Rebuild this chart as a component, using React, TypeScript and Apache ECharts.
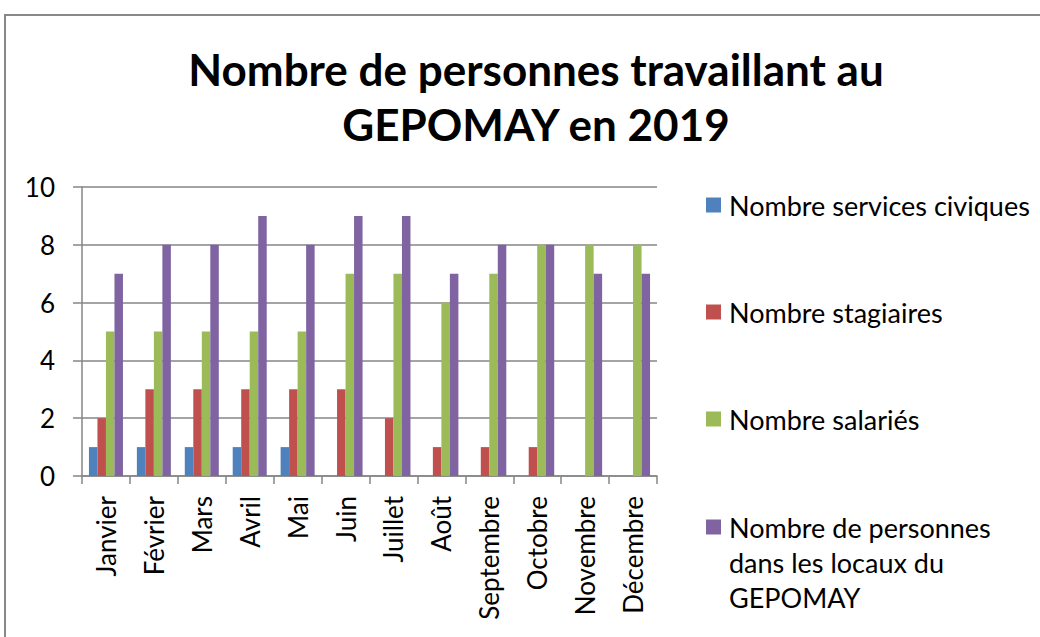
import React, { useEffect, useRef } from "react";
import * as echarts from "echarts";

const months = ["Janvier", "Février", "Mars", "Avril", "Mai", "Juin", "Juillet", "Août", "Septembre", "Octobre", "Novembre", "Décembre"];
const seriesNames = [
  "Nombre services civiques",
  "Nombre stagiaires",
  "Nombre salariés",
  "Nombre de personnes dans les locaux du GEPOMAY",
];
const legendLabels = [
  "Nombre services civiques",
  "Nombre stagiaires",
  "Nombre salariés",
  "Nombre de personnes\ndans les locaux du\nGEPOMAY",
];
const servicesCiviques = [1, 1, 1, 1, 1, 0, 0, 0, 0, 0, 0, 0];
const stagiaires = [2, 3, 3, 3, 3, 3, 2, 1, 1, 1, 0, 0];
const salaries = [5, 5, 5, 5, 5, 7, 7, 6, 7, 8, 8, 8];
const personnes = [7, 8, 8, 9, 8, 9, 9, 7, 8, 8, 7, 7];
const colors = ["#4F81BD", "#C0504D", "#9BBB59", "#8064A2"];
const titleText = "Nombre de personnes travaillant au\nGEPOMAY en 2019";

const FONT = "Lato, 'Noto Sans', sans-serif";

export default function App() {
  const ref = useRef<HTMLDivElement>(null);
  useEffect(() => {
    document.body.style.margin = "0";
    const chart = echarts.init(ref.current!, null, { renderer: "svg" });
    const data = [servicesCiviques, stagiaires, salaries, personnes];
    const legendY = [205, 312, 419, 527];
    const legendGraphics: any[] = [];
    legendLabels.forEach((lbl, i) => {
      legendGraphics.push({
        type: "rect",
        shape: { x: 706, y: legendY[i] - 7.5, width: 15, height: 15 },
        style: { fill: colors[i] },
      });
      legendGraphics.push({
        type: "text",
        x: 729,
        y: legendY[i] - 17.5,
        style: {
          text: lbl,
          font: `27px ${FONT}`,
          fill: "#000",
          verticalAlign: "top",
          lineHeight: 35,
        },
      });
    });
    chart.setOption({
      animation: false,
      backgroundColor: "#fff",
      title: {
        text: titleText,
        left: 531,
        top: 36,
        textAlign: "center",
        textStyle: {
          fontFamily: FONT,
          fontWeight: "bold",
          fontSize: 44,
          lineHeight: 55,
          color: "#000",
        },
      },
      grid: { left: 82, right: 383, top: 187, bottom: 161, containLabel: false },
      xAxis: {
        type: "category",
        data: months,
        axisLine: { lineStyle: { color: "#868686", width: 1.5 } },
        axisTick: { show: true, length: 8, lineStyle: { color: "#868686", width: 1.5 } },
        axisLabel: {
          rotate: 90,
          interval: 0,
          margin: 20,
          fontFamily: FONT,
          fontSize: 26,
          color: "#000",
        },
      },
      yAxis: {
        type: "value",
        min: 0,
        max: 10,
        interval: 2,
        axisLine: { show: true, lineStyle: { color: "#868686", width: 1.5 } },
        axisTick: { show: true, length: 9, lineStyle: { color: "#868686", width: 1.5 } },
        splitLine: { show: true, lineStyle: { color: "#868686", width: 1.5 } },
        axisLabel: {
          margin: 27,
          fontFamily: FONT,
          fontSize: 26,
          color: "#000",
        },
      },
      series: seriesNames.map((name, i) => ({
        name,
        type: "bar",
        data: data[i],
        itemStyle: { color: colors[i] },
        barGap: "0%",
        barCategoryGap: "29%",
      })),
      graphic: [
        {
          type: "rect",
          shape: { x: 5, y: 15, width: 1200, height: 800 },
          style: { fill: "none", stroke: "#888", lineWidth: 2 },
          z: 100,
        },
        ...legendGraphics,
      ],
    });
    return () => chart.dispose();
  }, []);
  return <div ref={ref} style={{ position: "fixed", left: 0, top: 0, width: 1040, height: 637 }} />;
}
